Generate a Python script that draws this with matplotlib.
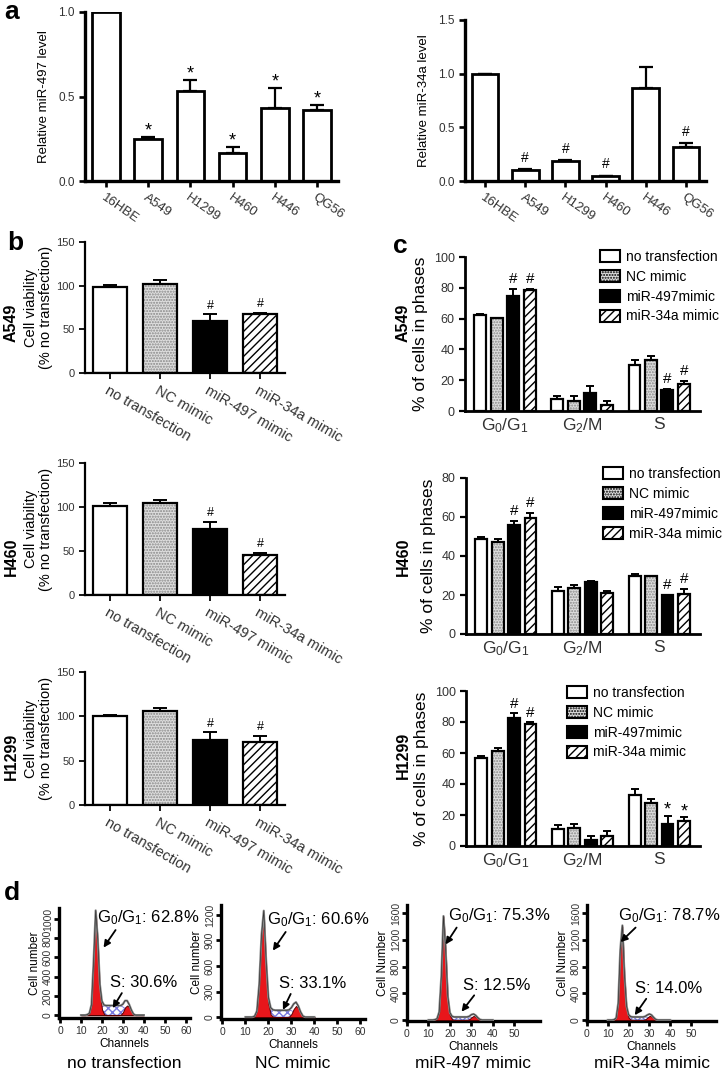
import matplotlib
matplotlib.use("Agg")
import matplotlib.pyplot as plt
from matplotlib.patches import Patch

plt.rcParams['font.family'] = ['Liberation Sans', 'DejaVu Sans']
plt.rcParams['hatch.linewidth'] = 1.0
plt.rcParams['mathtext.fontset'] = 'custom'
plt.rcParams['mathtext.rm'] = 'Liberation Sans'
plt.rcParams['mathtext.it'] = 'Liberation Sans'

W, H = 726, 1076

# ---- panel a data
cell_lines = ["16HBE", "A549", "H1299", "H460", "H446", "QG56"]
mir497_level = [1.0, 0.25, 0.535, 0.165, 0.43, 0.42]
mir497_top = [1.0, 0.26, 0.60, 0.20, 0.55, 0.45]
mir497_marks = ["", "*", "*", "*", "*", "*"]
mir34a_level = [1.0, 0.10, 0.185, 0.045, 0.87, 0.32]
mir34a_top = [1.0, 0.11, 0.195, 0.05, 1.065, 0.35]
mir34a_marks = ["", "#", "#", "#", "", "#"]

# ---- panel b data
treatments = ["no transfection", "NC mimic", "miR-497 mimic", "miR-34a mimic"]
legend_labels = ["no transfection", "NC mimic", "miR-497mimic", "miR-34a mimic"]
via_a549 = [99, 102, 60, 67]
via_a549_top = [101, 106, 67, 69]
via_h460 = [101, 104, 75, 46]
via_h460_top = [104, 108, 83, 48]
via_h1299 = [100, 106, 73, 71]
via_h1299_top = [102, 109, 82, 78]
via_marks = ["", "", "#", "#"]

# ---- panel c data (rows = treatments, cols = phases)
phases = ["G$_0$/G$_1$", "G$_2$/M", "S"]
cyc_a549 = [[62.5, 7.5, 30.0], [60.5, 6.5, 33.0], [75.0, 12.0, 13.5], [78.5, 4.0, 17.5]]
cyc_a549_top = [[63.0, 10.0, 33.0], [60.5, 10.0, 36.0], [79.5, 16.5, 14.5], [79.5, 6.5, 19.5]]
cyc_a549_marks = [["", "", ""], ["", "", ""], ["#", "", "#"], ["#", "", "#"]]
cyc_h460 = [[48.5, 22.0, 30.0], [47.3, 23.5, 29.5], [56.0, 26.5, 20.0], [59.3, 21.0, 20.5]]
cyc_h460_top = [[49.8, 24.2, 30.6], [48.5, 25.2, 29.8], [58.0, 27.2, 20.2], [62.0, 22.0, 23.2]]
cyc_h460_marks = [["", "", ""], ["", "", ""], ["#", "", "#"], ["#", "", "#"]]
cyc_h1299 = [[56.5, 11.0, 33.0], [61.0, 11.5, 27.5], [82.5, 4.0, 14.0], [78.5, 6.5, 16.0]]
cyc_h1299_top = [[57.8, 13.5, 37.0], [63.3, 14.5, 30.5], [85.5, 6.5, 19.5], [79.8, 10.0, 18.5]]
cyc_h1299_marks = [["", "", ""], ["", "", ""], ["#", "", "*"], ["#", "", "*"]]

# ---- panel d data (histogram counts per channel)
channels = list(range(10, 41))
nt_g1 = [0, 0, 0, 5, 20, 110, 560, 1080, 760, 260, 60, 10, 0, 0, 0, 0, 0, 0, 0, 0, 0, 0, 0, 0, 0, 0, 0, 0, 0, 0, 0]
nt_s = [0, 0, 0, 0, 0, 0, 0, 10, 30, 60, 85, 95, 100, 100, 100, 100, 100, 100, 100, 95, 85, 70, 50, 25, 10, 0, 0, 0, 0, 0, 0]
nt_g2 = [0, 0, 0, 0, 0, 0, 0, 0, 0, 0, 0, 0, 0, 0, 0, 0, 0, 0, 0, 5, 30, 80, 100, 85, 45, 12, 0, 0, 0, 0, 0]
nc_g1 = [0, 0, 0, 0, 10, 70, 380, 950, 1220, 620, 160, 30, 5, 0, 0, 0, 0, 0, 0, 0, 0, 0, 0, 0, 0, 0, 0, 0, 0, 0, 0]
nc_s = [0, 0, 0, 0, 0, 0, 0, 10, 30, 55, 75, 80, 80, 80, 80, 80, 80, 80, 80, 80, 75, 60, 45, 25, 10, 0, 0, 0, 0, 0, 0]
nc_g2 = [0, 0, 0, 0, 0, 0, 0, 0, 0, 0, 0, 0, 0, 0, 0, 0, 0, 0, 0, 5, 35, 95, 130, 105, 50, 12, 0, 0, 0, 0, 0]
m497_g1 = [0, 0, 0, 5, 20, 120, 650, 1550, 1050, 330, 70, 10, 0, 0, 0, 0, 0, 0, 0, 0, 0, 0, 0, 0, 0, 0, 0, 0, 0, 0, 0]
m497_s = [0, 0, 0, 0, 0, 0, 0, 5, 15, 30, 40, 45, 45, 45, 45, 45, 45, 45, 45, 45, 40, 30, 20, 10, 0, 0, 0, 0, 0, 0, 0]
m497_g2 = [0, 0, 0, 0, 0, 0, 0, 0, 0, 0, 0, 0, 0, 0, 0, 0, 0, 0, 0, 10, 40, 60, 50, 25, 8, 0, 0, 0, 0, 0, 0]
m34a_g1 = [0, 0, 0, 5, 30, 250, 1050, 1400, 650, 170, 35, 5, 0, 0, 0, 0, 0, 0, 0, 0, 0, 0, 0, 0, 0, 0, 0, 0, 0, 0, 0]
m34a_s = [0, 0, 0, 0, 0, 0, 5, 15, 30, 40, 45, 45, 45, 45, 45, 45, 45, 45, 45, 40, 30, 20, 10, 0, 0, 0, 0, 0, 0, 0, 0]
m34a_g2 = [0, 0, 0, 0, 0, 0, 0, 0, 0, 0, 0, 0, 0, 0, 0, 0, 0, 0, 10, 35, 60, 55, 30, 10, 0, 0, 0, 0, 0, 0, 0]
g1_pct = ["62.8%", "60.6%", "75.3%", "78.7%"]
s_pct = ["30.6%", "33.1%", "12.5%", "14.0%"]

styles = [
    dict(face="white", hatch=None, hcol="black"),
    dict(face="#dedede", hatch="......", hcol="#888888"),
    dict(face="black", hatch=None, hcol="black"),
    dict(face="white", hatch="////", hcol="black"),
]
TICK_COL = "#333333"

fig = plt.figure(figsize=(W / 100, H / 100), dpi=100)


def add_ax(x0, y0, x1, y1):
    return fig.add_axes([x0 / W, 1 - y1 / H, (x1 - x0) / W, (y1 - y0) / H])


def ftext(x, y, s, **kw):
    fig.text(x / W, 1 - y / H, s, **kw)


def style_axis(ax, lw):
    for sp in ["top", "right"]:
        ax.spines[sp].set_visible(False)
    for sp in ["left", "bottom"]:
        ax.spines[sp].set_linewidth(lw)
    ax.tick_params(width=lw * 0.8, length=4, colors="black", labelcolor=TICK_COL)


def draw_bar(ax, x, v, width, st, lw):
    ax.bar(x, v, width, color=st["face"], edgecolor=st["hcol"], hatch=st["hatch"], linewidth=0, zorder=2)
    ax.bar(x, v, width, fill=False, edgecolor="black", linewidth=lw, zorder=3)


def draw_err(ax, x, v, top, lw, cap):
    ax.errorbar([x], [v], yerr=[[0], [max(top - v, 0)]], fmt="none", ecolor="black",
                elinewidth=lw, capsize=cap, capthick=lw, zorder=1)


def mark(ax, x, top, m, size, dy):
    if m:
        ax.annotate(m, (x, top), xytext=(0, dy), textcoords="offset points",
                    ha="center", va="bottom", fontsize=size)


# ---------------- panel a
def panel_a(rect, vals, tops, marks, ylim, yticks, ylabel):
    ax = add_ax(*rect)
    for i in range(len(cell_lines)):
        draw_err(ax, i, vals[i], tops[i], 1.6, 5)
        draw_bar(ax, i, vals[i], 0.66, styles[0], 2.0)
        mark(ax, i, tops[i], marks[i], 13 if marks[i] == "*" else 10, -2 if marks[i] == "*" else 3)
    ax.set_xlim(-0.5, 5.5)
    ax.set_ylim(*ylim)
    ax.set_yticks(yticks)
    ax.set_yticklabels([f"{t:.1f}" for t in yticks], fontsize=8.5)
    ax.set_xticks(range(len(cell_lines)))
    ax.set_xticklabels(cell_lines, rotation=-35, ha="left", va="top",
                       rotation_mode="anchor", fontsize=9.5)
    ax.set_ylabel(ylabel, fontsize=9.5, labelpad=6)
    style_axis(ax, 2.4)
    return ax


panel_a((85, 12, 338, 181), mir497_level, mir497_top, mir497_marks, (0, 1.0), [0.0, 0.5, 1.0], "Relative miR-497 level")
panel_a((465, 20, 706, 181), mir34a_level, mir34a_top, mir34a_marks, (0, 1.5), [0.0, 0.5, 1.0, 1.5], "Relative miR-34a level")


# ---------------- panel b
def panel_b(rect, vals, tops):
    ax = add_ax(*rect)
    for i in range(4):
        draw_err(ax, i, vals[i], tops[i], 1.4, 5)
        draw_bar(ax, i, vals[i], 0.67, styles[i], 1.6)
        mark(ax, i, tops[i], via_marks[i], 9, 2)
    ax.set_xlim(-0.5, 3.5)
    ax.set_ylim(0, 150)
    ax.set_yticks([0, 50, 100, 150])
    ax.tick_params(axis="y", labelsize=8)
    ax.set_xticks(range(4))
    ax.set_xticklabels(treatments, rotation=-30, ha="left", va="top",
                       rotation_mode="anchor", fontsize=10.5)
    ax.set_ylabel("Cell viability\n(% no transfection)", fontsize=10.5, labelpad=2, linespacing=1.1)
    style_axis(ax, 1.6)
    return ax


panel_b((85, 242, 285, 373), via_a549, via_a549_top)
panel_b((85, 463, 285, 595), via_h460, via_h460_top)
panel_b((85, 672, 285, 805), via_h1299, via_h1299_top)


# ---------------- panel c
def panel_c(rect, vals, tops, marks, ymax, leg_xy):
    ax = add_ax(*rect)
    off = [-0.32, -0.107, 0.107, 0.32]
    for t in range(4):
        for p in range(3):
            x = p + off[t]
            draw_err(ax, x, vals[t][p], tops[t][p], 1.4, 3)
            draw_bar(ax, x, vals[t][p], 0.155, styles[t], 1.6)
            m = marks[t][p]
            mark(ax, x, tops[t][p], m, 13 if m == "*" else 11, -2 if m == "*" else 2)
    ax.set_xlim(-0.52, 2.53)
    ax.set_ylim(0, ymax)
    ax.set_yticks(range(0, ymax + 1, 20))
    ax.tick_params(axis="y", labelsize=9)
    ax.set_xticks(range(3))
    ax.set_xticklabels(phases, fontsize=12.5)
    ax.set_ylabel("% of cells in phases", fontsize=12.5, labelpad=4)
    style_axis(ax, 2.0)
    ax.tick_params(axis="x", length=0, pad=4)
    handles = [Patch(facecolor=st["face"], edgecolor="black", hatch=st["hatch"], linewidth=1.5)
               for st in styles]
    ax.legend(handles, legend_labels, loc="upper left",
              bbox_to_anchor=(leg_xy[0] / W, 1 - leg_xy[1] / H), bbox_transform=fig.transFigure,
              frameon=False, fontsize=10, handlelength=1.45, handleheight=1.0,
              handletextpad=0.45, labelspacing=0.42, borderpad=0, borderaxespad=0)
    return ax


panel_c((465, 257, 700, 411), cyc_a549, cyc_a549_top, cyc_a549_marks, 100, (600, 250))
panel_c((466, 478, 700, 634), cyc_h460, cyc_h460_top, cyc_h460_marks, 80, (603, 467))
panel_c((466, 691, 700, 846), cyc_h1299, cyc_h1299_top, cyc_h1299_marks, 100, (567, 686))


# ---------------- panel d
def panel_d(rect, g1, s, g2, ylim, yticks, xticks, xleft, ylabel, g1txt, stxt, pos, title):
    ax = add_ax(*rect)
    total = [a + b + c for a, b, c in zip(g1, s, g2)]
    ax.fill_between(channels, 0, s, facecolor="white", edgecolor="#7a7ae0", hatch="xxxx",
                    linewidth=0.6, zorder=2)
    ax.fill_between(channels, 0, g1, facecolor="#e8161b", edgecolor="#5a0000", linewidth=0.7, zorder=3)
    ax.fill_between(channels, 0, g2, facecolor="#e8161b", edgecolor="#5a0000", linewidth=0.7, zorder=3)
    ax.plot(channels, total, color="#8a8a8a", linewidth=1.6, zorder=4)
    ax.plot(channels, total, color="#333333", linewidth=0.5, zorder=5)
    ax.set_xlim(xleft, 62)
    ax.set_ylim(*ylim)
    ax.set_xticks(xticks)
    ax.set_yticks(yticks)
    ax.tick_params(axis="x", labelsize=7.5, pad=2)
    ax.tick_params(axis="y", labelsize=7.5, labelrotation=90, pad=1)
    for lab in ax.get_yticklabels():
        lab.set_va("center")
    ax.set_xlabel("Channels", fontsize=8.5, labelpad=2)
    ax.set_ylabel(ylabel, fontsize=8.5, labelpad=1)
    style_axis(ax, 2.4)
    ax.tick_params(length=3.5, width=2.0, labelcolor=TICK_COL)
    ax.annotate("G$_0$/G$_1$: " + g1txt, xy=pos[0], xytext=pos[1], xycoords="axes fraction",
                textcoords="axes fraction", fontsize=12, ha="left", va="center",
                arrowprops=dict(arrowstyle="-|>", color="black", lw=1.3, mutation_scale=10,
                                shrinkA=0, shrinkB=0, relpos=pos[2]), zorder=6)
    ax.annotate("S: " + stxt, xy=pos[3], xytext=pos[4], xycoords="axes fraction",
                textcoords="axes fraction", fontsize=12, ha="left", va="center",
                arrowprops=dict(arrowstyle="-|>", color="black", lw=1.3, mutation_scale=10,
                                shrinkA=0, shrinkB=0, relpos=pos[5]), zorder=6)
    x0, x1 = rect[0], rect[2]
    ftext((x0 + x1) / 2, 1063, title, fontsize=12.5, ha="center", va="center")
    return ax


panel_d((59, 908, 190, 1018), nt_g1, nt_s, nt_g2, (-30, 1115), range(0, 1001, 200),
        range(0, 61, 10), -0.5, "Cell number", g1_pct[0], s_pct[0],
        [(0.34, 0.64), (0.29, 0.91), (0.2, 0.0), (0.41, 0.09), (0.39, 0.32), (0.2, 0.0)],
        "no transfection")
panel_d((221, 905, 365, 1019), nc_g1, nc_s, nc_g2, (-23, 1317), range(0, 1201, 300),
        range(0, 61, 10), -0.6, "Cell number", g1_pct[1], s_pct[1],
        [(0.36, 0.60), (0.32, 0.87), (0.2, 0.0), (0.43, 0.08), (0.40, 0.31), (0.2, 0.0)],
        "NC mimic")
panel_d((407, 905, 540, 1021), m497_g1, m497_s, m497_g2, (-15, 1720), range(0, 1601, 400),
        range(0, 51, 10), 0, "Cell Number", g1_pct[2], s_pct[2],
        [(0.29, 0.66), (0.31, 0.91), (0.1, 0.0), (0.41, 0.08), (0.42, 0.31), (0.2, 0.0)],
        "miR-497 mimic")
panel_d((587, 905, 716, 1021), m34a_g1, m34a_s, m34a_g2, (-15, 1720), range(0, 1601, 400),
        range(0, 51, 10), 0, "Cell Number", g1_pct[3], s_pct[3],
        [(0.26, 0.68), (0.24, 0.91), (0.2, 0.0), (0.37, 0.05), (0.37, 0.28), (0.2, 0.0)],
        "miR-34a mimic")

# ---------------- labels
ftext(12, 12, "a", fontsize=19, fontweight="bold", ha="center", va="center")
ftext(15, 243, "b", fontsize=19, fontweight="bold", ha="center", va="center")
ftext(400, 246, "c", fontsize=19, fontweight="bold", ha="center", va="center")
ftext(12, 893, "d", fontsize=19, fontweight="bold", ha="center", va="center")
for y, name in [(323, "A549"), (557, "H460"), (756, "H1299")]:
    ftext(11, y, name, fontsize=11.5, fontweight="bold", rotation=90, ha="center", va="center")
for y, name in [(323, "A549"), (557, "H460"), (755, "H1299")]:
    ftext(403, y, name, fontsize=11.5, fontweight="bold", rotation=90, ha="center", va="center")

fig.savefig("out.png", dpi=100)
